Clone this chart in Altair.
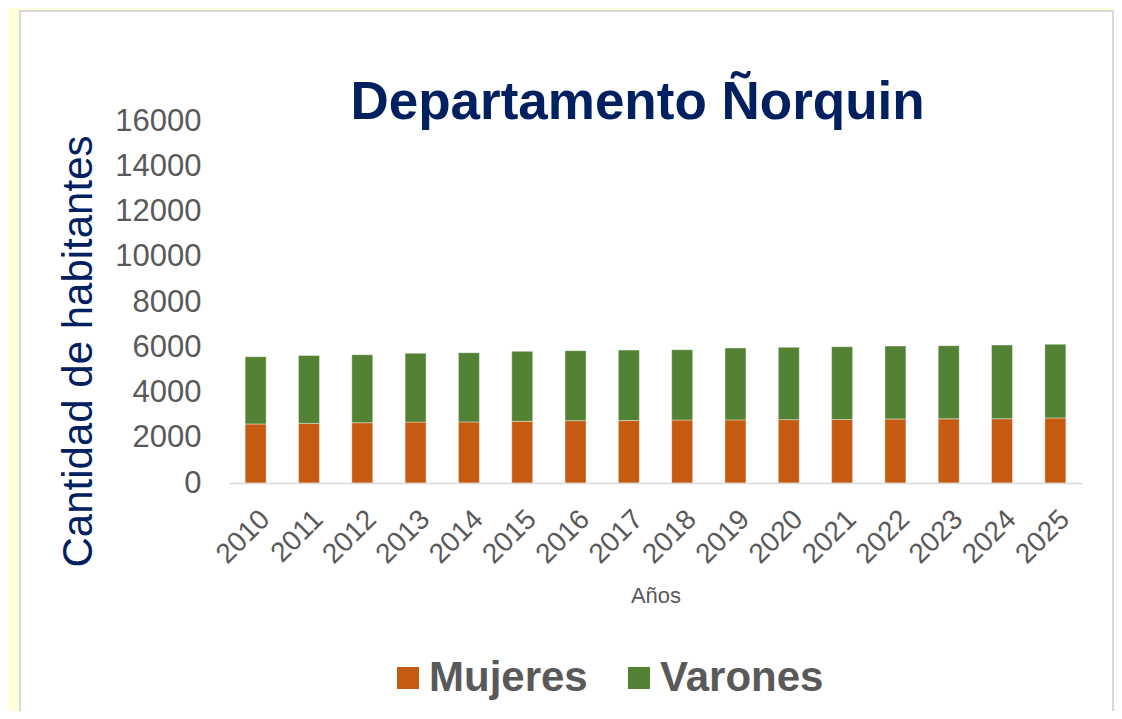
import altair as alt
import pandas as pd

years = [str(y) for y in range(2010, 2026)]
mujeres = [2610, 2635, 2665, 2695, 2700, 2725, 2755, 2760, 2785, 2790, 2800, 2805, 2830, 2835, 2840, 2875]
totales = [5585, 5640, 5670, 5730, 5760, 5820, 5850, 5875, 5895, 5965, 5995, 6025, 6055, 6070, 6100, 6130]
varones = [t - m for t, m in zip(totales, mujeres)]
series = ["Mujeres", "Varones"]
colors = ["#C55A11", "#548235"]

rows = []
for i, y in enumerate(years):
    rows.append({"Año": y, "Sexo": "Mujeres", "orden": 0, "Habitantes": mujeres[i]})
    rows.append({"Año": y, "Sexo": "Varones", "orden": 1, "Habitantes": varones[i]})
df = pd.DataFrame(rows)

W, H = 853, 362
PL, PT = 221, 113

panel = alt.Chart(pd.DataFrame({"k": [0]})).mark_rect(
    fill="white", stroke="#D9D9D9", strokeWidth=2, clip=False
).encode(
    x=alt.value(20 - 8 - PL), x2=alt.value(1113 - 8 - PL),
    y=alt.value(-110), y2=alt.value(700)
)

bars = alt.Chart(df).mark_bar(size=21, stroke="white", strokeOpacity=0.5, strokeWidth=0.8).encode(
    x=alt.X("Año:N", sort=years, title="Años",
            scale=alt.Scale(paddingInner=0.6, paddingOuter=0.3),
            axis=alt.Axis(labelAngle=-45, labelFontSize=28, labelColor="#595959",
                          labelFont="Liberation Sans", ticks=False, domainColor="#D9D9D9",
                          domainWidth=1.5, labelPadding=22, bandPosition=0.3, zindex=1,
                          titleFontSize=22, titleColor="#595959", titleFont="Liberation Sans",
                          titleFontWeight="normal", titlePadding=17)),
    y=alt.Y("Habitantes:Q", stack="zero", title="Cantidad de habitantes",
            scale=alt.Scale(domain=[0, 16000]),
            axis=alt.Axis(values=list(range(0, 16001, 2000)), format="d", grid=False, domain=False,
                          ticks=False, labelFontSize=31, labelColor="#595959",
                          labelFont="Liberation Sans", labelPadding=28, zindex=1,
                          titleFontSize=42, titleColor="#002060", titleFont="Liberation Sans",
                          titleFontWeight="normal", titleX=-129, titleY=230)),
    color=alt.Color("Sexo:N", sort=series,
                    scale=alt.Scale(domain=series, range=colors),
                    legend=alt.Legend(title=None, orient="none", direction="horizontal",
                                      legendX=158, legendY=536,
                                      labelFontSize=42, labelFontWeight="bold",
                                      labelColor="#595959", labelFont="Liberation Sans",
                                      symbolType="square", symbolSize=484,
                                      symbolStrokeWidth=0, labelOffset=0,
                                      columnPadding=30, labelLimit=400)),
    order=alt.Order("orden:Q", sort="ascending"),
)

chart = alt.layer(panel, bars).properties(
    width=W, height=H,
    padding={"left": PL, "top": PT, "right": 1106 - PL - W, "bottom": 703 - PT - H},
    autosize=alt.AutoSizeParams(type="none"),
    background="#FFFFDA",
    title=alt.Title("Departamento Ñorquin", fontSize=53, fontWeight="bold",
                    color="#002060", font="Liberation Sans", anchor="middle",
                    frame="group", dx=-18, dy=162, offset=0, baseline="alphabetic"),
).configure_view(stroke=None)

chart.save("out.html", embed_options={"renderer": "svg", "actions": False})
